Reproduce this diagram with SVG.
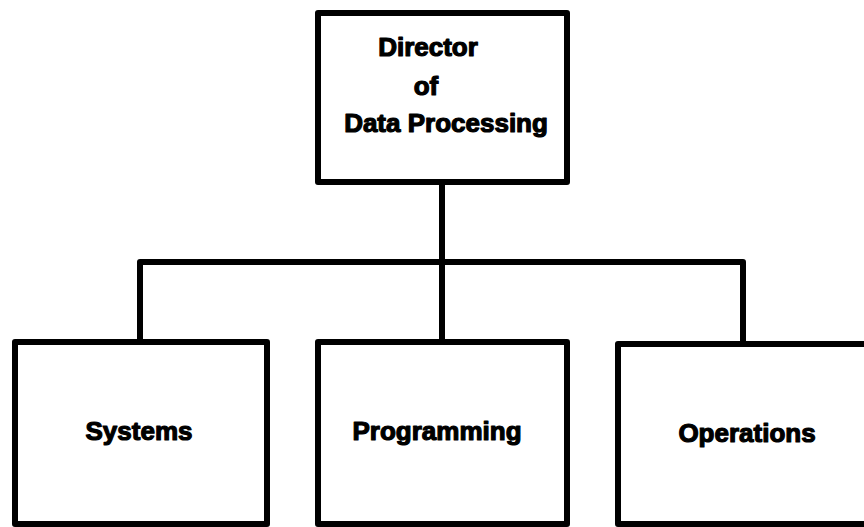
<svg xmlns="http://www.w3.org/2000/svg" width="864" height="527" viewBox="0 0 864 527">
  <style>
    .box { fill: #ffffff; stroke: #000000; stroke-width: 6; stroke-linejoin: round; }
    .wire { fill: none; stroke: #000000; stroke-width: 6; stroke-linejoin: round; }
    .label { font-family: "Liberation Sans", Arial, Helvetica, sans-serif; font-weight: 900; font-size: 26px; fill: #000000; stroke: #000000; stroke-width: 1.2; stroke-linejoin: round; text-anchor: middle; }
  </style>
  <rect width="864" height="527" fill="#ffffff"/>

  <!-- connectors -->
  <g id="connectors">
    <path class="wire" d="M442,182 V342"/>
    <path class="wire" d="M140,343 V262 H743 V344"/>
  </g>

  <!-- director -->
  <g id="director">
    <rect class="box" x="318" y="13" width="249" height="169"/>
    <text class="label" x="428" y="56">Director</text>
    <text class="label" x="426" y="95">of</text>
    <text class="label" x="446" y="132">Data Processing</text>
  </g>

  <!-- departments -->
  <g id="systems">
    <rect class="box" x="15" y="342" width="252" height="182"/>
    <text class="label" x="139" y="440">Systems</text>
  </g>
  <g id="programming">
    <rect class="box" x="318" y="342" width="249" height="182"/>
    <text class="label" x="437" y="440">Programming</text>
  </g>
  <g id="operations">
    <rect class="box" x="618" y="344" width="262" height="180"/>
    <text class="label" x="747" y="442">Operations</text>
  </g>
</svg>
